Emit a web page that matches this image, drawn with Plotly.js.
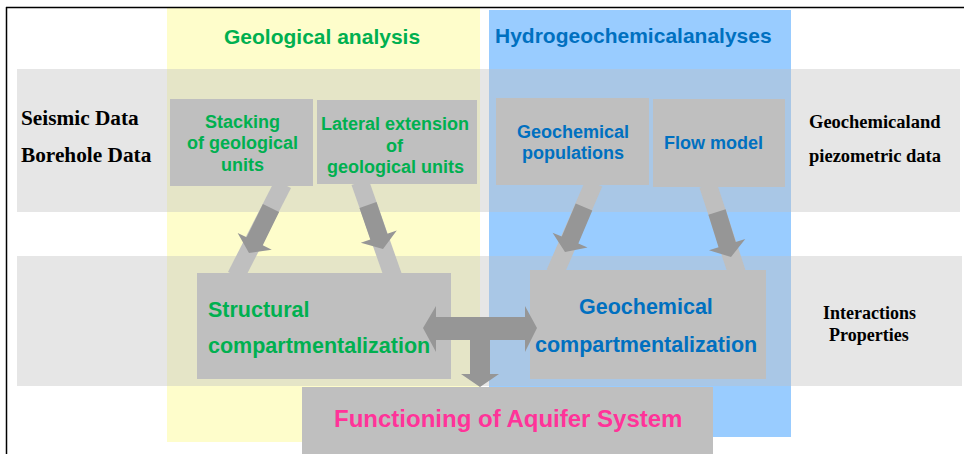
<!DOCTYPE html>
<html>
<head>
<meta charset="utf-8">
<script src="https://cdn.plot.ly/plotly-3.0.1.min.js"></script>
<style>html,body{margin:0;padding:0;background:#fff;}#chart{width:964px;height:454px;}</style>
</head>
<body>
<div id="chart"></div>
<script>
// ---- Text content of the diagram ----
const columnTitles = ["Geological analysis", "Hydrogeochemicalanalyses"];
const leftRowLabels = ["Seismic Data", "Borehole Data"];
const rightRowLabels = ["Geochemicaland", "piezometric data"];
const interactionLabels = ["Interactions", "Properties"];
const stackingLines = ["Stacking", "of geological", "units"];
const lateralLines = ["Lateral extension", "of", "geological units"];
const populationLines = ["Geochemical", "populations"];
const flowLines = ["Flow model"];
const structuralLines = ["Structural", "compartmentalization"];
const geochemCompLines = ["Geochemical", "compartmentalization"];
const outcomeLines = ["Functioning of Aquifer System"];

// ---- Layout geometry (pixel-like axis units) ----
const W = 964, H = 454;
const SANS = "Liberation Sans, Arial, sans-serif";
const SERIF = "Liberation Serif, Times New Roman, serif";
const GREEN = "#00b050", BLUE = "#0070c0", PINK = "#ff3399";
const BOX = "#bfbfbf", DARK = "#969696";

const shapes = [];
function rect(x0, y0, x1, y1, color) {
  shapes.push({type: "rect", xref: "x", yref: "y", x0, y0, x1, y1,
    fillcolor: color, line: {width: 0}, layer: "above"});
}
function poly(pts, color) {
  const d = "M " + pts.map(p => p[0].toFixed(2) + "," + p[1].toFixed(2)).join(" L ") + " Z";
  shapes.push({type: "path", xref: "x", yref: "y", path: d, fillcolor: color,
    line: {width: 0}, layer: "above"});
}
function bar(x0, y0, x1, y1, w, color) {
  const dx = x1 - x0, dy = y1 - y0, L = Math.hypot(dx, dy);
  const px = -dy / L * w / 2, py = dx / L * w / 2;
  poly([[x0 + px, y0 + py], [x1 + px, y1 + py], [x1 - px, y1 - py], [x0 - px, y0 - py]], color);
}
function arrow(x0, y0, x1, y1, sw, hw, hl, color) {
  const dx = x1 - x0, dy = y1 - y0, L = Math.hypot(dx, dy);
  const ux = dx / L, uy = dy / L, px = -uy, py = ux;
  const bx = x1 - ux * hl, by = y1 - uy * hl;
  poly([
    [x0 + px * sw / 2, y0 + py * sw / 2],
    [bx + px * sw / 2, by + py * sw / 2],
    [bx + px * hw / 2, by + py * hw / 2],
    [x1, y1],
    [bx - px * hw / 2, by - py * hw / 2],
    [bx - px * sw / 2, by - py * sw / 2],
    [x0 - px * sw / 2, y0 - py * sw / 2]
  ], color);
}

// Columns
rect(167, 8, 480, 442, "#fefdcb");
rect(489, 10, 791, 437, "#99ccff");
// Row bands (translucent grey)
rect(17, 69, 960, 212, "rgba(192,192,192,0.4)");
rect(17, 256, 962, 386, "rgba(192,192,192,0.4)");

// Connector bars
bar(283, 184, 236, 276, 18, BOX);
bar(360, 182, 393, 276, 18, BOX);
bar(594, 183, 555, 273, 18, BOX);
bar(708, 185, 737, 273, 18, BOX);

// Boxes
rect(170, 99, 313, 186, BOX);
rect(317, 100, 477, 184, BOX);
rect(496, 98, 649, 185, BOX);
rect(653, 99, 785, 187, BOX);
rect(197, 273, 451, 379, BOX);
rect(530, 270, 766, 379, BOX);
rect(302, 387, 713, 460, BOX);

// Dark block arrows on connectors
arrow(271, 208, 249, 253, 18, 38, 13, DARK);
arrow(368, 205, 383, 249, 18, 38, 13, DARK);
arrow(584, 207, 565, 252, 18, 38, 13, DARK);
arrow(717, 212, 731, 257, 18, 38, 13, DARK);

// Central T-shaped double arrow
poly([[423, 328], [436, 306], [436, 317], [525, 317], [525, 306], [537, 328], [525, 352],
      [525, 340], [490, 340], [490, 374], [499, 374], [480, 387], [461, 374], [470, 374],
      [470, 340], [436, 340], [436, 352]], DARK);

// Outer frame (top and left edges)
shapes.push({type: "line", xref: "x", yref: "y", x0: 6.5, y0: 7, x1: 6.5, y1: H, line: {color: "#000", width: 1.5}, layer: "above"});
shapes.push({type: "line", xref: "x", yref: "y", x0: 6, y0: 7.5, x1: W, y1: 7.5, line: {color: "#000", width: 1.5}, layer: "above"});

// ---- Annotations ----
const annotations = [];
function txt(s, x, y, size, color, family, anchor) {
  annotations.push({text: "<b>" + s + "</b>", x, y, xref: "x", yref: "y", showarrow: false,
    xanchor: anchor || "center", yanchor: "middle",
    font: {size, color, family}});
}
function lines(arr, x, ys, size, color, family, anchor) {
  arr.forEach((s, i) => txt(s, x, ys[i], size, color, family, anchor));
}
txt(columnTitles[0], 322, 36, 21, GREEN, SANS);
txt(columnTitles[1], 633, 35, 21, BLUE, SANS);
lines(leftRowLabels, 19, [118, 155], 21.3, "#000", SERIF, "left");
lines(rightRowLabels, 807, [122, 156], 18.5, "#000", SERIF, "left");
lines(interactionLabels, 869, [313, 335], 18, "#000", SERIF);
lines(stackingLines, 242, [122, 143, 165], 18, GREEN, SANS);
lines(lateralLines, 395, [124, 146, 167], 18, GREEN, SANS);
lines(populationLines, 573, [132, 153], 18, BLUE, SANS);
lines(flowLines, 713, [143], 18, BLUE, SANS);
lines(structuralLines, 206, [310, 346], 21.5, GREEN, SANS, "left");
lines(geochemCompLines, 646, [307, 345], 21.5, BLUE, SANS);
lines(outcomeLines, 508, [418], 24, PINK, SANS);

const layout = {
  width: W, height: H,
  margin: {l: 0, r: 0, t: 0, b: 0, pad: 0},
  paper_bgcolor: "#ffffff", plot_bgcolor: "#ffffff",
  xaxis: {range: [0, W], visible: false, fixedrange: true},
  yaxis: {range: [H, 0], visible: false, fixedrange: true},
  showlegend: false,
  shapes, annotations
};
Plotly.newPlot("chart", [{x: [0], y: [0], type: "scatter", mode: "markers",
  marker: {opacity: 0}, hoverinfo: "skip", showlegend: false}], layout,
  {staticPlot: true, displayModeBar: false});
</script>
</body>
</html>
